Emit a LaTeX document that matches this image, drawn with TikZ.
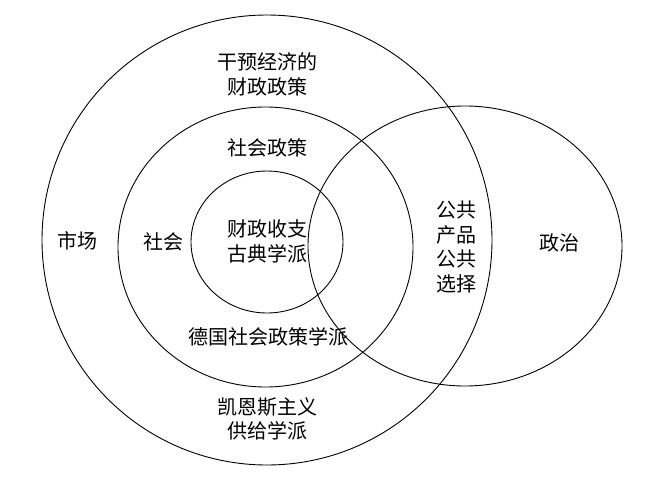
\documentclass[tikz,border=0pt]{standalone}
\usepackage{fontspec}
\setmainfont{Noto Sans CJK SC}
\begin{document}
\begin{tikzpicture}[x=1pt,y=-1pt,
  ring/.style={draw=black,line width=0.9pt},
  lbl/.style={font=\fontsize{20}{24.5}\selectfont,align=center,inner sep=0pt}]
\useasboundingbox (0,0) rectangle (662,485);
\draw[ring] (267,240) ellipse [x radius=225,y radius=225];
\draw[ring] (265.5,247) ellipse [x radius=147.5,y radius=140];
\draw[ring] (267,242) ellipse [x radius=76,y radius=71];
\draw[ring] (465,246) ellipse [x radius=157,y radius=140];
\node[lbl] (t1) at (267,74.5) {干预经济的\\财政政策};
\node[lbl] (t2) at (267,148) {社会政策};
\node[lbl] (t3) at (267,241.5) {财政收支\\古典学派};
\node[lbl] (t4) at (268,337) {德国社会政策学派};
\node[lbl] (t5) at (267,419) {凯恩斯主义\\供给学派};
\node[lbl] (t6) at (77,241) {市场};
\node[lbl] (t7) at (163,242) {社会};
\node[lbl] (t8) at (456,247) {公共\\产品\\公共\\选择};
\node[lbl] (t9) at (559,243) {政治};
\end{tikzpicture}
\end{document}
